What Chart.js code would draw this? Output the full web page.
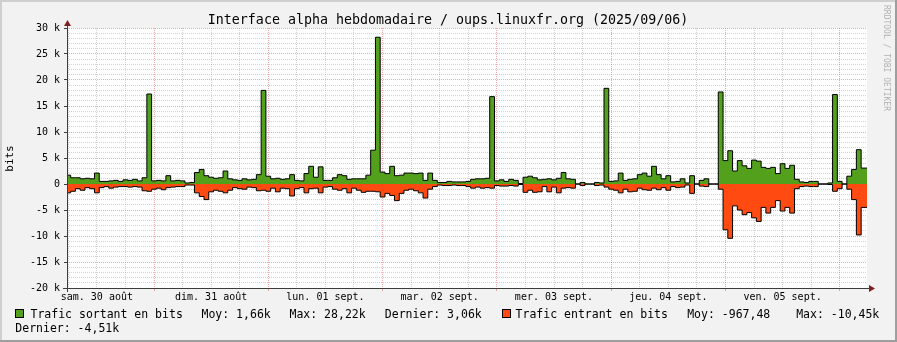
<!DOCTYPE html>
<html>
<head>
<meta charset="utf-8">
<script src="https://cdn.jsdelivr.net/npm/chart.js@4.4.1/dist/chart.umd.min.js"></script>
<style>
html,body{margin:0;padding:0;background:#f2f2f2;}
body{width:897px;height:342px;overflow:hidden;}
canvas{display:block;}
</style>
</head>
<body>
<canvas id="c" width="897" height="342"></canvas>
<script>
// ---------------- data ----------------
const chartTitle = 'Interface alpha hebdomadaire / oups.linuxfr.org (2025/09/06)';
const yAxisLabel = 'bits';
// one value per hour, first bin starts at 05:30 on Sat 30 Aug (hours counted from 30 Aug 00:00)
const firstBinHour = 5.5;
const binHours = 1;
const viewStartHour = 5.73;
const viewEndHour = 173.73;

const trafficOut = [
  1700,1200,1200,1000,1100,1000,2100,500,500,600,700,500,800,700,900,600,1200,17300,600,700,
  600,1600,600,700,600,200,300,2200,2800,1600,1300,1100,1200,2500,1000,800,700,1000,800,900,
  1800,18000,1500,1000,1100,900,1000,1800,700,600,2000,3400,1300,3300,700,700,1200,1800,1600,900,
  1000,1000,1000,1700,6500,28220,2300,2000,3400,1600,1700,2100,2100,2000,2100,700,2100,700,300,300,
  500,400,400,400,500,900,1000,1000,1100,16800,600,800,500,900,700,100,1300,1500,1200,800,
  900,1000,800,1100,2200,1000,900,0,300,0,0,300,200,18400,500,600,2100,700,900,1000,
  1800,2100,1500,3400,1800,1000,1600,400,500,1000,200,1600,0,700,1000,0,0,17700,4500,6400,
  2500,4500,3500,3000,4600,4400,3200,3000,3200,2000,3900,3000,3600,900,400,300,500,500,0,0,
  200,17200,500,0,1500,2800,6600,3060,3060
];
const trafficIn = [
  -1700,-1400,-900,-1200,-700,-900,-1700,-700,-500,-800,-600,-500,-500,-600,-500,-600,-1300,-1400,-1000,-800,
  -1100,-700,-600,-500,-500,-200,-200,-1700,-2400,-3000,-1500,-1200,-1400,-1700,-1200,-700,-900,-1000,-600,-700,
  -1300,-1200,-1400,-800,-1500,-800,-900,-2300,-900,-700,-1700,-900,-800,-1700,-600,-500,-1000,-1200,-900,-1700,
  -800,-1200,-1600,-1400,-1400,-1500,-2500,-1800,-2200,-3200,-1800,-1200,-1000,-1300,-1700,-2700,-1000,-500,-200,-300,
  -300,-200,-300,-300,-500,-800,-600,-800,-700,-800,-300,-400,-400,-300,-400,-100,-1600,-1200,-1600,-1500,
  -500,-1500,-600,-1700,-800,-700,-800,0,-300,0,0,-300,-200,-600,-1000,-1200,-1700,-1000,-1500,-1400,
  -800,-1100,-1200,-800,-1100,-700,-1200,-500,-700,-600,-200,-1800,0,-400,-500,0,0,-1000,-8800,-10450,
  -4200,-5000,-5900,-5500,-6500,-7200,-4500,-5600,-4500,-3200,-5200,-4500,-5600,-900,-500,-400,-500,-500,0,0,
  -100,-1400,-900,0,-1000,-3000,-9800,-4510,-4510
];
const yMin = -20000, yMax = 30000, yMinorStep = 1000, yMajorStep = 5000;
const xGridStep = 6, xDayHours = 24;
const dayLabels = ['sam. 30 août','dim. 31 août','lun. 01 sept.','mar. 02 sept.','mer. 03 sept.','jeu. 04 sept.','ven. 05 sept.'];
const dayLabelHours = [12,36,60,84,108,132,156];
const legendOut = ['Trafic sortant en bits','Moy: 1,66k','Max: 28,22k','Dernier: 3,06k'];
const legendIn = ['Trafic entrant en bits','Moy: -967,48','Max: -10,45k','Dernier: -4,51k'];

// ---------------- styles ----------------
const GREEN = '#52a01c';
const ORANGE = '#ff4b12';
const GRID_MINOR = 'rgba(143,143,143,0.4)';
const GRID_MAJOR = 'rgba(222,79,79,0.5)';
const AXIS = 'rgb(60,60,60)';
const ARROW = 'rgb(128,31,31)';
const MONO = '"DejaVu Sans Mono", monospace';

function toPoints(vals){
  const pts = vals.map((v,i)=>({x:firstBinHour + i*binHours, y:v}));
  pts.push({x:firstBinHour + vals.length*binHours, y:vals[vals.length-1]});
  return pts;
}

const xTickValues = [];
for (let h = xGridStep; h <= viewEndHour; h += xGridStep) xTickValues.push(h);
const yTickValues = [];
for (let v = yMin; v <= yMax; v += yMinorStep) yTickValues.push(v);

const rrdPlugin = {
  id:'rrd',
  beforeDraw(chart){
    const {ctx, chartArea:a, width, height} = chart;
    ctx.save();
    ctx.fillStyle = '#f2f2f2'; ctx.fillRect(0,0,width,height);
    ctx.fillStyle = '#cfcfcf'; ctx.fillRect(0,0,width,2); ctx.fillRect(0,0,2,height);
    ctx.fillStyle = '#9e9e9e'; ctx.fillRect(0,height-2,width,2); ctx.fillRect(width-2,0,2,height);
    ctx.fillStyle = '#ffffff'; ctx.fillRect(a.left, a.top, a.right-a.left, a.bottom-a.top);
    ctx.restore();
  },
  afterDatasetsDraw(chart){
    const {ctx, chartArea:a} = chart;
    ctx.save();
    ctx.strokeStyle = AXIS; ctx.lineWidth = 1;
    ctx.beginPath();
    ctx.moveTo(a.left-4, a.bottom+0.5); ctx.lineTo(a.right+4, a.bottom+0.5);
    ctx.moveTo(a.left+0.5, a.bottom+4); ctx.lineTo(a.left+0.5, a.top-4);
    ctx.stroke();
    ctx.fillStyle = ARROW;
    ctx.beginPath();
    ctx.moveTo(a.right+2, a.bottom-3); ctx.lineTo(a.right+2, a.bottom+4); ctx.lineTo(a.right+8, a.bottom+0.5); ctx.closePath(); ctx.fill();
    ctx.beginPath();
    ctx.moveTo(a.left-3, a.top-2); ctx.lineTo(a.left+4, a.top-2); ctx.lineTo(a.left+0.5, a.top-8); ctx.closePath(); ctx.fill();
    ctx.restore();
  },
  afterDraw(chart){
    const ctx = chart.ctx;
    ctx.save();
    ctx.fillStyle = '#000';
    ctx.textBaseline = 'alphabetic';
    ctx.font = '13.3px ' + MONO; ctx.textAlign = 'center';
    ctx.fillText(chartTitle, 448, 24);
    // y axis title
    ctx.save(); ctx.translate(10.5, 158.5); ctx.rotate(-Math.PI/2);
    ctx.font = '11px ' + MONO; ctx.textAlign = 'center'; ctx.textBaseline = 'middle';
    ctx.fillText(yAxisLabel, 0, 0); ctx.restore();
    // watermark
    ctx.save(); ctx.translate(886, 5); ctx.rotate(Math.PI/2);
    ctx.font = '8px ' + MONO; ctx.textAlign = 'left'; ctx.textBaseline = 'middle';
    ctx.fillStyle = 'rgba(0,0,0,0.28)';
    ctx.fillText('RRDTOOL / TOBI OETIKER', 0, 0); ctx.restore();
    // legend
    ctx.font = '11.5px ' + MONO; ctx.textAlign = 'left'; ctx.textBaseline = 'alphabetic';
    const box = (x, y, c) => { ctx.fillStyle = c; ctx.fillRect(x, y, 9, 9); ctx.strokeStyle = '#000'; ctx.lineWidth = 1; ctx.strokeRect(x+0.5, y+0.5, 8, 8); };
    box(15, 309, GREEN);
    ctx.fillStyle = '#000';
    ctx.fillText(legendOut[0], 30.5, 318);
    ctx.fillText(legendOut[1], 201.5, 318);
    ctx.fillText(legendOut[2], 289.5, 318);
    ctx.fillText(legendOut[3], 384.8, 318);
    box(502, 309, ORANGE);
    ctx.fillStyle = '#000';
    ctx.fillText(legendIn[0], 515.6, 318);
    ctx.fillText(legendIn[1], 687.2, 318);
    ctx.fillText(legendIn[2], 796.2, 318);
    ctx.fillText(legendIn[3], 15.3, 332);
    ctx.restore();
  }
};

new Chart(document.getElementById('c'), {
  type:'line',
  data:{
    datasets:[
      {label:legendOut[0], data:toPoints(trafficOut), stepped:true, fill:'origin',
       backgroundColor:GREEN, borderColor:'#000', borderWidth:1, pointRadius:0},
      {label:legendIn[0], data:toPoints(trafficIn), stepped:true, fill:'origin',
       backgroundColor:ORANGE, borderColor:'#000', borderWidth:1, pointRadius:0}
    ]
  },
  options:{
    responsive:false, animation:false, devicePixelRatio:1,
    layout:{padding:{left:0, right:30, top:28, bottom:0}},
    plugins:{legend:{display:false}, title:{display:false}, tooltip:{enabled:false}},
    scales:{
      x:{
        type:'linear', min:viewStartHour, max:viewEndHour,
        afterFit(s){ s.height = 54; },
        afterBuildTicks(s){ s.ticks = xTickValues.map(v=>({value:v})); },
        border:{display:false, dash:[1,1]},
        grid:{
          color:c => (c.tick && c.tick.value % xDayHours === 0) ? GRID_MAJOR : GRID_MINOR,
          tickColor:c => (c.tick && c.tick.value % xDayHours === 0) ? GRID_MAJOR : 'rgba(0,0,0,0)',
          tickLength:3, lineWidth:1
        },
        ticks:{
          autoSkip:false, maxRotation:0, padding:0, color:'#000',
          font:{family:'DejaVu Sans Mono', size:10},
          callback:v => { const k = dayLabelHours.indexOf(v); return k >= 0 ? dayLabels[k] : ''; }
        }
      },
      y:{
        min:yMin, max:yMax,
        afterFit(s){ s.width = 67; },
        afterBuildTicks(s){ s.ticks = yTickValues.map(v=>({value:v})); },
        border:{display:false, dash:[1,1]},
        grid:{
          color:c => (c.tick && c.tick.value % yMajorStep === 0) ? GRID_MAJOR : GRID_MINOR,
          tickColor:c => (c.tick && c.tick.value % yMajorStep === 0) ? AXIS : 'rgba(0,0,0,0)',
          tickLength:3, lineWidth:1
        },
        ticks:{
          autoSkip:false, padding:4, color:'#000',
          font:{family:'DejaVu Sans Mono', size:10},
          callback:v => v % yMajorStep !== 0 ? '' : (v === 0 ? '0' : (v/1000) + ' k')
        }
      }
    }
  },
  plugins:[rrdPlugin]
});
</script>
</body>
</html>
